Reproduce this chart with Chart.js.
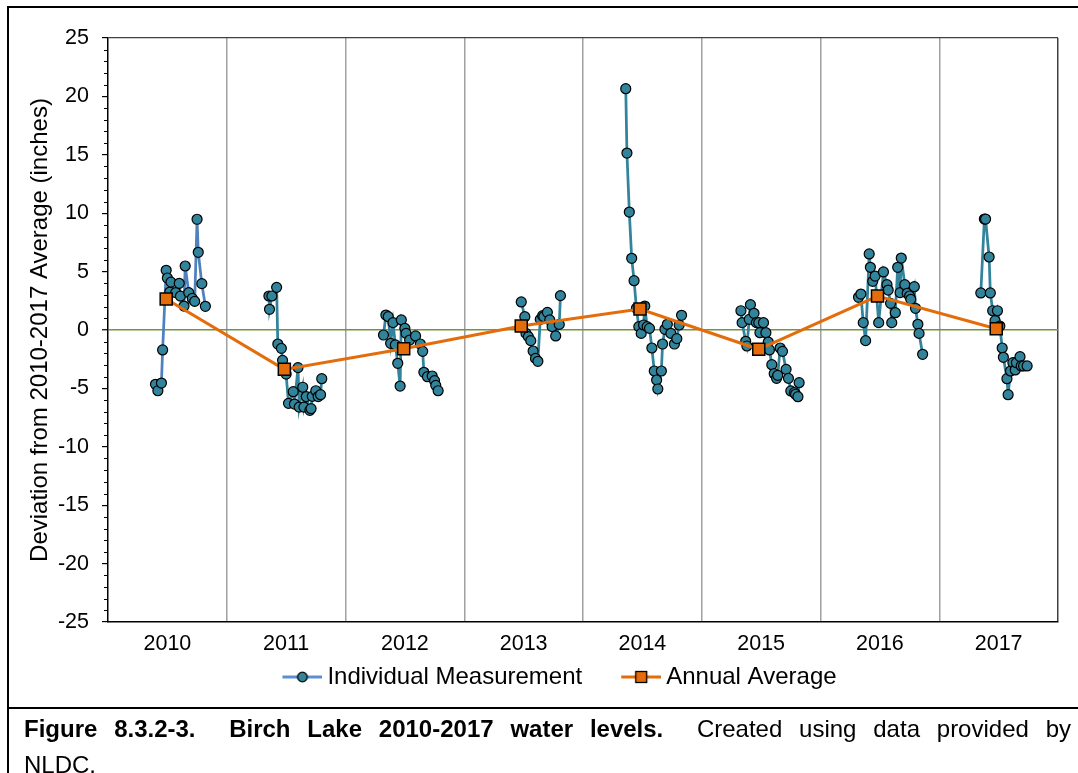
<!DOCTYPE html>
<html>
<head>
<meta charset="utf-8">
<script src="https://cdn.jsdelivr.net/npm/chart.js@4.4.1/dist/chart.umd.min.js"></script>
<style>
  html, body { margin: 0; padding: 0; background: #fff; width: 1078px; height: 773px; overflow: hidden; }
  #chart { position: absolute; left: 0; top: 0; }
  #frame { position: absolute; left: 7px; top: 6px; width: 1120px; height: 820px; border: 2px solid #000; box-sizing: border-box; pointer-events: none; }
  #sep { position: absolute; left: 7px; top: 707px; width: 1120px; height: 2px; background: #000; }
  #caption { position: absolute; left: 24px; top: 711px; width: 1047px; font-family: "Liberation Sans", Arial, sans-serif; font-size: 24px; line-height: 36px; color: #000; }
  #caption .l1 { white-space: pre-wrap; text-align: justify; text-align-last: justify; }
  #caption b { font-weight: bold; }
</style>
</head>
<body>
<canvas id="chart" width="1078" height="705"></canvas>
<div id="frame"></div>
<div id="sep"></div>
<div id="caption">
  <div class="l1"><b>Figure 8.3.2-3.  Birch Lake 2010-2017 water levels.</b>  Created using data provided by</div>
  <div>NLDC.</div>
</div>
<script>
// ---- Data ----
const yearLabels = ['2010', '2011', '2012', '2013', '2014', '2015', '2016', '2017'];

const t2010 = [2010.40, 2010.42, 2010.45, 2010.46, 2010.49, 2010.50, 2010.52, 2010.53, 2010.57, 2010.60, 2010.61, 2010.64, 2010.65, 2010.68, 2010.71, 2010.73, 2010.75, 2010.76, 2010.79, 2010.82];
const v2010 = [-4.65, -5.2, -4.54, -1.71, 5.11, 4.45, 3.25, 4.1, 3.2, 4.0, 2.9, 2.05, 5.48, 3.2, 2.7, 2.45, 9.48, 6.65, 3.97, 2.03];

const t2011 = [2011.355, 2011.36, 2011.38, 2011.42, 2011.43, 2011.46, 2011.47, 2011.50, 2011.52, 2011.56, 2011.57, 2011.60, 2011.61, 2011.64, 2011.65, 2011.67, 2011.70, 2011.71, 2011.72, 2011.75, 2011.77, 2011.79, 2011.80];
const v2011 = [2.91, 1.77, 2.91, 3.65, -1.2, -1.57, -2.6, -3.77, -6.28, -5.28, -6.34, -3.22, -6.6, -4.9, -6.6, -5.7, -6.88, -6.73, -5.68, -5.2, -5.7, -5.54, -4.17];

const t2012 = [2012.32, 2012.34, 2012.36, 2012.38, 2012.40, 2012.42, 2012.44, 2012.46, 2012.47, 2012.50, 2012.51, 2012.54, 2012.59, 2012.63, 2012.65, 2012.66, 2012.69, 2012.73, 2012.75, 2012.76, 2012.78];
const v2012 = [-0.43, 1.28, 1.14, -1.14, 0.63, -1.28, -2.85, -4.8, 0.86, 0.14, -0.29, -0.86, -0.51, -1.2, -1.83, -3.62, -4.0, -3.94, -4.34, -4.74, -5.2];

const t2013 = [2013.48, 2013.51, 2013.52, 2013.54, 2013.56, 2013.58, 2013.60, 2013.62, 2013.64, 2013.66, 2013.67, 2013.70, 2013.72, 2013.74, 2013.77, 2013.80, 2013.81];
const v2013 = [2.4, 1.14, -0.29, -0.57, -0.91, -1.8, -2.43, -2.68, 0.91, 1.23, 1.14, 1.51, 0.86, 0.29, -0.51, 0.48, 2.94];

const t2014 = [2014.36, 2014.37, 2014.39, 2014.41, 2014.43, 2014.45, 2014.47, 2014.49, 2014.51, 2014.52, 2014.54, 2014.56, 2014.58, 2014.60, 2014.62, 2014.63, 2014.66, 2014.67, 2014.69, 2014.71, 2014.74, 2014.77, 2014.79, 2014.81, 2014.83];
const v2014 = [20.66, 15.15, 10.1, 6.14, 4.22, 1.86, 0.29, -0.29, 0.43, 2.05, 0.29, 0.14, -1.54, -3.51, -4.28, -5.05, -3.51, -1.2, 0.06, 0.49, -0.29, -1.2, -0.74, 0.43, 1.26];

const t2015 = [2015.33, 2015.34, 2015.37, 2015.38, 2015.40, 2015.41, 2015.44, 2015.46, 2015.48, 2015.49, 2015.52, 2015.54, 2015.56, 2015.57, 2015.59, 2015.61, 2015.63, 2015.64, 2015.66, 2015.68, 2015.71, 2015.73, 2015.75, 2015.78, 2015.79, 2015.81, 2015.82];
const v2015 = [1.65, 0.63, -0.97, -1.37, 0.91, 2.17, 1.43, 0.63, 0.63, -0.23, 0.63, -0.23, -1.03, -1.71, -2.97, -3.74, -4.14, -3.88, -1.54, -1.83, -3.37, -4.14, -5.22, -5.37, -5.5, -5.71, -4.51];

const t2016 = [2016.32, 2016.34, 2016.36, 2016.38, 2016.41, 2016.42, 2016.44, 2016.46, 2016.49, 2016.53, 2016.56, 2016.57, 2016.59, 2016.60, 2016.63, 2016.65, 2016.67, 2016.68, 2016.71, 2016.73, 2016.75, 2016.76, 2016.79, 2016.80, 2016.82, 2016.83, 2016.86];
const v2016 = [2.8, 3.08, 0.63, -0.91, 6.51, 5.37, 4.17, 4.62, 0.63, 4.97, 3.88, 3.42, 2.28, 0.63, 1.48, 5.37, 3.2, 6.16, 3.88, 3.14, 2.91, 2.63, 3.71, 1.86, 0.49, -0.29, -2.08];

const t2017 = [2017.35, 2017.38, 2017.39, 2017.42, 2017.43, 2017.45, 2017.47, 2017.49, 2017.51, 2017.53, 2017.54, 2017.57, 2017.58, 2017.60, 2017.62, 2017.64, 2017.65, 2017.68, 2017.69, 2017.71, 2017.74];
const v2017 = [3.17, 9.5, 9.5, 6.25, 3.17, 1.65, 0.8, 1.65, 0.34, -1.54, -2.34, -4.17, -5.54, -3.51, -2.8, -3.42, -2.8, -2.28, -3.08, -3.08, -3.08];

const avgT = [2010.49, 2011.485, 2012.49, 2013.48, 2014.48, 2015.48, 2016.48, 2017.48];
const avgV = [2.65, -3.37, -1.6, 0.34, 1.8, -1.65, 2.91, 0.11];

const yMin = -25, yMax = 25, yStep = 5;
const xMin = 2010, xMax = 2018;

// ---- Build the measurement series (a gap between years) ----
const measTimes = [t2010, t2011, t2012, t2013, t2014, t2015, t2016, t2017];
const measVals = [v2010, v2011, v2012, v2013, v2014, v2015, v2016, v2017];
const measData = [];
measTimes.forEach((ts, i) => {
  ts.forEach((t, j) => measData.push({ x: t, y: measVals[i][j] }));
  if (i < measTimes.length - 1) measData.push({ x: xMin + i + 1, y: null });
});
const avgData = avgT.map((t, i) => ({ x: t, y: avgV[i] }));

const FONT = '"Liberation Sans", Arial, sans-serif';
const TEAL = '#31849B', BLUE = '#4F81BD', ORANGE = '#E46C0A', OLIVE = '#77933C';

// ---- Legend icons: line through marker (visible part on the right of the box) ----
function legendIcon(kind) {
  const c = document.createElement('canvas');
  c.width = 77; c.height = 16;
  const g = c.getContext('2d');
  g.strokeStyle = kind === 'circle' ? '#5B8FD4' : ORANGE;
  g.lineWidth = 3;
  g.beginPath(); g.moveTo(37, 8); g.lineTo(77, 8); g.stroke();
  g.lineWidth = 1.3; g.strokeStyle = '#000';
  if (kind === 'circle') {
    g.fillStyle = TEAL;
    g.beginPath(); g.arc(57, 8, 4.8, 0, Math.PI * 2); g.fill(); g.stroke();
  } else {
    g.fillStyle = ORANGE;
    g.fillRect(51.5, 2.5, 11, 11); g.strokeRect(51.5, 2.5, 11, 11);
  }
  return c;
}
const iconMeas = legendIcon('circle');
const iconAvg = legendIcon('square');

// ---- Minor tick marks on the y axis ----
const minorTicks = {
  id: 'minorTicks',
  afterDraw(chart) {
    const s = chart.scales.y, ctx = chart.ctx;
    ctx.save();
    ctx.strokeStyle = '#000';
    ctx.lineWidth = 1;
    for (let v = yMin; v <= yMax; v++) {
      if (v % yStep === 0) continue;
      const y = Math.round(s.getPixelForValue(v)) + 0.5;
      ctx.beginPath(); ctx.moveTo(s.right - 4, y); ctx.lineTo(s.right, y); ctx.stroke();
    }
    ctx.restore();
  }
};

new Chart(document.getElementById('chart'), {
  type: 'line',
  data: {
    datasets: [
      {
        label: 'Individual Measurement',
        data: measData,
        order: 2,
        borderColor: BLUE,
        borderWidth: 2.75,
        segment: { borderColor: c => (c.p0.parsed.x < 2011 ? BLUE : TEAL) },
        pointRadius: 5,
        pointBackgroundColor: TEAL,
        pointBorderColor: '#000',
        pointBorderWidth: 1.2,
        spanGaps: false,
        tension: 0
      },
      {
        label: 'Annual Average',
        data: avgData,
        order: 1,
        borderColor: ORANGE,
        borderWidth: 3,
        pointStyle: 'rect',
        pointRadius: 8.5,
        pointBackgroundColor: ORANGE,
        pointBorderColor: '#000',
        pointBorderWidth: 1.5,
        tension: 0
      }
    ]
  },
  options: {
    responsive: false,
    animation: false,
    devicePixelRatio: 1,
    layout: { padding: { top: 38, left: 31, right: 20, bottom: 6 } },
    plugins: {
      tooltip: { enabled: false },
      legend: {
        position: 'bottom',
        labels: {
          usePointStyle: true,
          pointStyleWidth: 63,
          padding: 9,
          color: '#000',
          font: { family: FONT, size: 24 },
          generateLabels: () => [
            { text: 'Individual Measurement', pointStyle: iconMeas, fillStyle: TEAL, strokeStyle: '#000', lineWidth: 0, hidden: false, datasetIndex: 0, fontColor: '#000' },
            { text: 'Annual Average', pointStyle: iconAvg, fillStyle: ORANGE, strokeStyle: '#000', lineWidth: 0, hidden: false, datasetIndex: 1, fontColor: '#000' }
          ]
        }
      }
    },
    scales: {
      x: {
        type: 'linear',
        min: xMin,
        max: xMax,
        afterBuildTicks: s => {
          const ticks = [];
          for (let i = 0; i <= (xMax - xMin) * 2; i++) ticks.push({ value: xMin + i / 2 });
          s.ticks = ticks;
        },
        afterFit: s => { s.height = 34; },
        ticks: {
          autoSkip: false,
          maxRotation: 0,
          minRotation: 0,
          padding: 9,
          color: '#000',
          font: { family: FONT, size: 21.5 },
          callback: v => {
            const f = v - Math.floor(v);
            return Math.abs(f - 0.5) < 1e-6 ? yearLabels[Math.floor(v) - xMin] : '';
          }
        },
        grid: {
          drawTicks: false,
          lineWidth: 1.5,
          color: c => {
            const v = c.tick ? c.tick.value : null;
            if (v === null) return 'transparent';
            if (Math.abs(v - xMax) < 1e-6) return '#404040';
            if (Math.abs(v - xMin) < 1e-6) return 'transparent';
            return Math.abs(v - Math.round(v)) < 1e-6 ? '#A0A0A0' : 'transparent';
          }
        },
        border: { display: true, color: '#000', width: 1.5 }
      },
      y: {
        min: yMin,
        max: yMax,
        afterFit: s => { s.width = 77; },
        ticks: {
          stepSize: yStep,
          padding: 13,
          color: '#000',
          font: { family: FONT, size: 21.5 }
        },
        grid: {
          drawTicks: true,
          tickLength: 6,
          tickColor: '#000',
          tickWidth: 1.2,
          lineWidth: c => (c.tick && c.tick.value === 0 ? 1.5 : 1.2),
          color: c => {
            const v = c.tick ? c.tick.value : null;
            if (v === 0) return OLIVE;
            if (v === yMax) return '#404040';
            return 'transparent';
          }
        },
        border: { display: true, color: '#000', width: 1.5 },
        title: {
          display: true,
          text: 'Deviation from 2010-2017 Average (inches)',
          color: '#000',
          font: { family: FONT, size: 24 },
          padding: { top: -5, bottom: 0 }
        }
      }
    }
  },
  plugins: [minorTicks]
});
</script>
</body>
</html>
